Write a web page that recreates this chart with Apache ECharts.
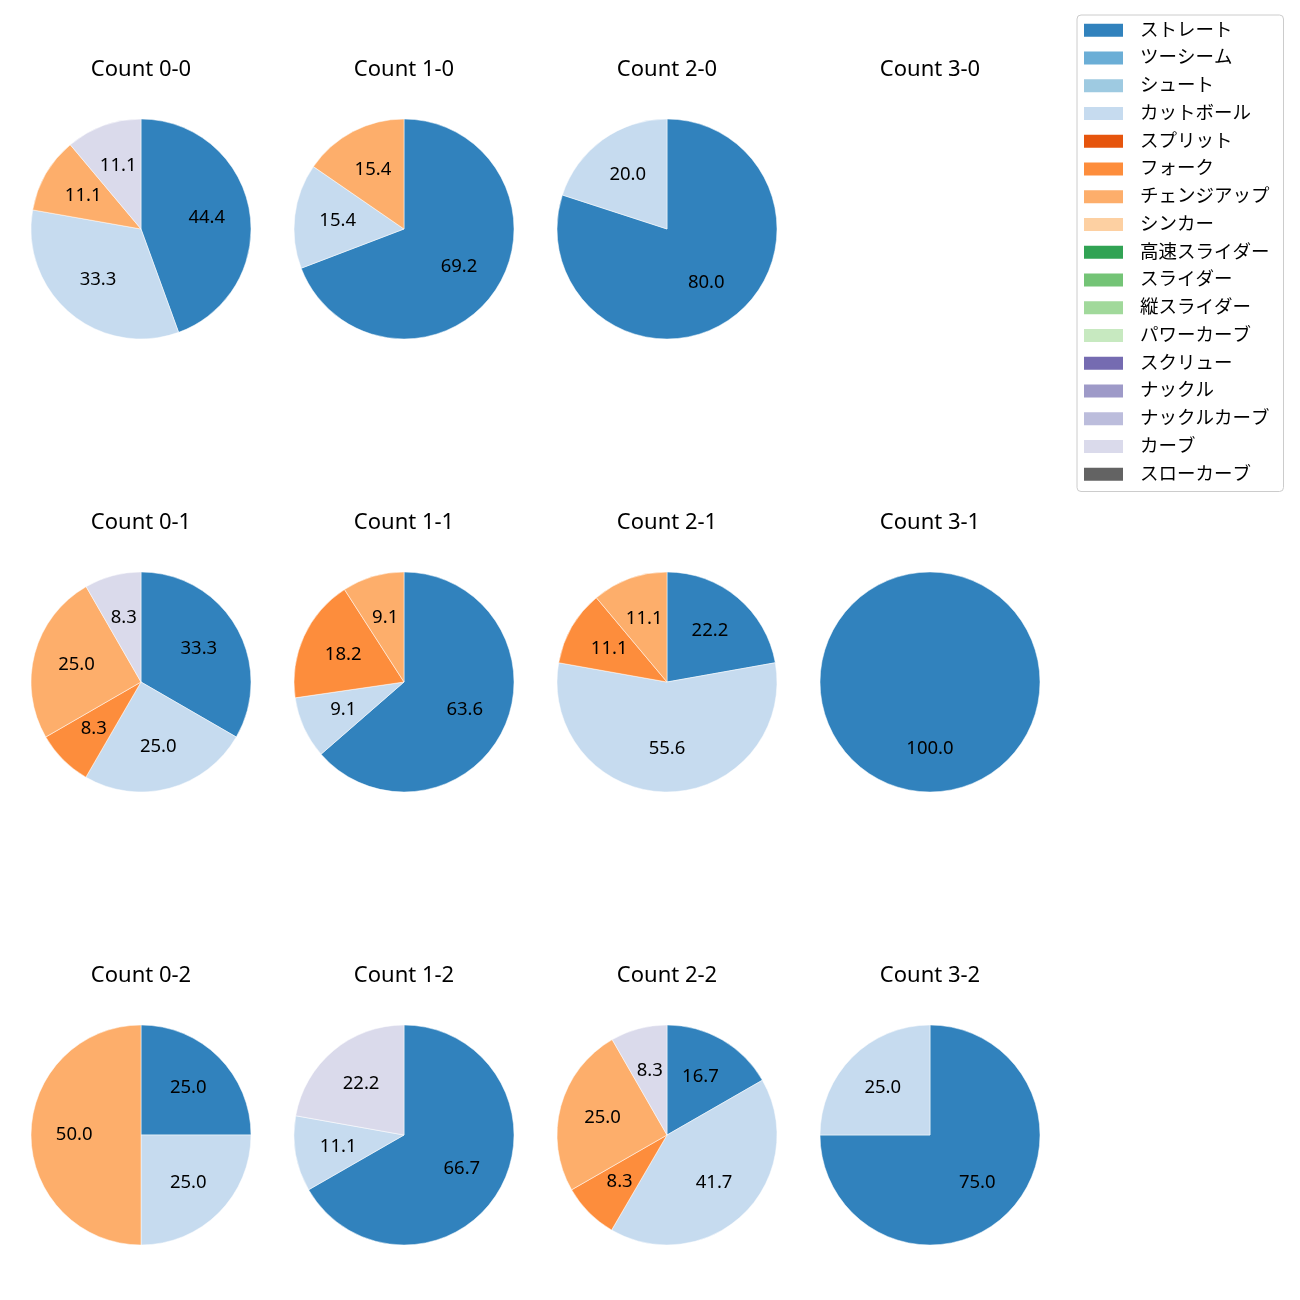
<!DOCTYPE html>
<html>
<head>
<meta charset="utf-8">
<script src="https://cdn.jsdelivr.net/npm/echarts@6/dist/echarts.min.js"></script>
<style>html,body{margin:0;padding:0;background:#fff;}#chart{width:1300px;height:1300px;}</style>
</head>
<body>
<div id="chart"></div>
<script>
// Pitch types (legend order) and their colours
const categories = ['ストレート','ツーシーム','シュート','カットボール','スプリット','フォーク','チェンジアップ','シンカー','高速スライダー','スライダー','縦スライダー','パワーカーブ','スクリュー','ナックル','ナックルカーブ','カーブ','スローカーブ'];
const palette = ['#3182bd','#6baed6','#9ecae1','#c6dbef','#e6550d','#fd8d3c','#fdae6b','#fdd0a2','#31a354','#74c476','#a1d99b','#c7e9c0','#756bb1','#9e9ac8','#bcbddc','#dadaeb','#636363'];

// Percentages per count, aligned with categories
const count00 = [44.4,0,0,33.3,0,0,11.1,0,0,0,0,0,0,0,0,11.1,0];
const count10 = [69.2,0,0,15.4,0,0,15.4,0,0,0,0,0,0,0,0,0,0];
const count20 = [80.0,0,0,20.0,0,0,0,0,0,0,0,0,0,0,0,0,0];
const count30 = [0,0,0,0,0,0,0,0,0,0,0,0,0,0,0,0,0];
const count01 = [33.3,0,0,25.0,0,8.3,25.0,0,0,0,0,0,0,0,0,8.3,0];
const count11 = [63.6,0,0,9.1,0,18.2,9.1,0,0,0,0,0,0,0,0,0,0];
const count21 = [22.2,0,0,55.6,0,11.1,11.1,0,0,0,0,0,0,0,0,0,0];
const count31 = [100.0,0,0,0,0,0,0,0,0,0,0,0,0,0,0,0,0];
const count02 = [25.0,0,0,25.0,0,0,50.0,0,0,0,0,0,0,0,0,0,0];
const count12 = [66.7,0,0,11.1,0,0,0,0,0,0,0,0,0,0,0,22.2,0];
const count22 = [16.7,0,0,41.7,0,8.3,25.0,0,0,0,0,0,0,0,0,8.3,0];
const count32 = [75.0,0,0,25.0,0,0,0,0,0,0,0,0,0,0,0,0,0];

const panelTitles = [
  ['Count 0-0','Count 1-0','Count 2-0','Count 3-0'],
  ['Count 0-1','Count 1-1','Count 2-1','Count 3-1'],
  ['Count 0-2','Count 1-2','Count 2-2','Count 3-2']
];
const panelData = [
  [count00, count10, count20, count30],
  [count01, count11, count21, count31],
  [count02, count12, count22, count32]
];

const FONT = '"Noto Sans", "Noto Sans CJK JP", sans-serif';
const colX = [141, 404, 667, 930];
const rowY = [229, 682, 1135];
const R = 110;
const TITLE_OFFSET = 159;

const series = [];
const graphics = [];

// legend provider (all categories, zero values)
series.push({
  type: 'pie', name: 'legend', radius: [0, 0], center: [-100, -100],
  stillShowZeroSum: false, silent: true, label: {show: false}, labelLine: {show: false},
  data: categories.map((c, i) => ({name: c, value: 0, itemStyle: {color: palette[i]}}))
});

for (let r = 0; r < 3; r++) {
  for (let c = 0; c < 4; c++) {
    const vals = panelData[r][c];
    const items = [];
    vals.forEach((v, i) => { if (v > 0) items.push({name: categories[i], value: v, color: palette[i]}); });
    graphics.push({
      type: 'text', x: colX[c], y: rowY[r] - TITLE_OFFSET,
      style: {text: panelTitles[r][c], align: 'center', verticalAlign: 'middle', font: '22px ' + FONT, fill: '#000'}
    });
    if (!items.length) continue;
    series.push({
      type: 'pie', center: [colX[c], rowY[r]], radius: [0, R],
      startAngle: 90, clockwise: true, silent: true, animation: false,
      label: {show: false}, labelLine: {show: false},
      itemStyle: {borderColor: '#ffffff', borderWidth: 0.5},
      data: items.map(d => ({name: d.name, value: d.value, itemStyle: {color: d.color}}))
    });
    // transparent overlay so inside labels sit near 0.6 R
    series.push({
      type: 'pie', center: [colX[c], rowY[r]], radius: [0, R * 1.16],
      startAngle: 90, clockwise: true, silent: true, animation: false,
      itemStyle: {color: 'rgba(0,0,0,0)', borderWidth: 0},
      label: {show: true, position: 'inside', formatter: p => p.value.toFixed(1),
              color: '#000', fontSize: 18.5, fontFamily: FONT},
      labelLine: {show: false},
      data: items.map(d => ({name: d.name, value: d.value}))
    });
  }
}

const chart = echarts.init(document.getElementById('chart'));
chart.setOption({
  backgroundColor: '#ffffff',
  animation: false,
  legend: {
    orient: 'vertical', left: 1077, top: 15,
    data: categories, icon: 'rect', itemWidth: 39, itemHeight: 13, itemGap: 9.25,
    padding: [6, 14, 8, 7],
    borderColor: '#cccccc', borderWidth: 1, borderRadius: 4,
    selectedMode: false,
    textStyle: {fontSize: 18.5, fontFamily: FONT, color: '#000', lineHeight: 14, padding: [0, 0, 0, 12]}
  },
  graphic: graphics,
  series: series
});
</script>
</body>
</html>
